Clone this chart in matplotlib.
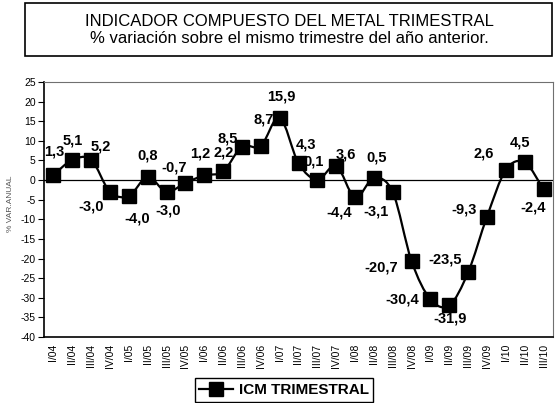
import matplotlib
matplotlib.use("Agg")
import matplotlib.pyplot as plt
from matplotlib.path import Path
from matplotlib.patches import PathPatch, Rectangle
from matplotlib.lines import Line2D
import numpy as np

plt.rcParams["font.family"] = ["Liberation Sans", "DejaVu Sans"]

# datos
trimestres = ["I/04", "II/04", "III/04", "IV/04",
              "I/05", "II/05", "III/05", "IV/05",
              "I/06", "II/06", "III/06", "IV/06",
              "I/07", "II/07", "III/07", "IV/07",
              "I/08", "II/08", "III/08", "IV/08",
              "I/09", "II/09", "III/09", "IV/09",
              "I/10", "II/10", "III/10"]
icm = [1.3, 5.1, 5.2, -3.0,
       -4.0, 0.8, -3.0, -0.7,
       1.2, 2.2, 8.5, 8.7,
       15.9, 4.3, 0.1, 3.6,
       -4.4, 0.5, -3.1, -20.7,
       -30.4, -31.9, -23.5, -9.3,
       2.6, 4.5, -2.4]
y_ticks = list(range(-40, 30, 5))

# desplazamiento de cada etiqueta (px, y hacia abajo)
offsets_px = [(1, -23), (0, -20), (10, -13), (-19, 15),
              (8, 23), (0, -21), (2, 19), (-11, -15),
              (-4, -22), (1, -19), (-14, -8), (3, -26),
              (2, -21), (7, -19), (-4, -18), (10, -11),
              (-16, 15), (3, -21), (-17, 19), (-30, 6),
              (-28, 0), (1, 13), (-23, -13), (-23, -7),
              (-22, -16), (-5, -20), (-10, 18)]

W, H = 555, 403
fig = plt.figure(figsize=(W / 100, H / 100), dpi=100)
ax = fig.add_axes([44 / W, 1 - 337 / H, (553 - 44) / W, (337 - 82) / H])

x = np.arange(len(icm))
y = np.array(icm)

# linea suavizada (estilo Excel) con curvas de Bezier
pts = np.column_stack([x, y])
verts = [pts[0]]
codes = [Path.MOVETO]
for i in range(len(pts) - 1):
    p0 = pts[i - 1] if i > 0 else pts[i]
    p1 = pts[i]
    p2 = pts[i + 1]
    p3 = pts[i + 2] if i + 2 < len(pts) else pts[i + 1]
    verts += [p1 + (p2 - p0) / 6, p2 - (p3 - p1) / 6, p2]
    codes += [Path.CURVE4] * 3
ax.add_patch(PathPatch(Path(verts, codes), fill=False, edgecolor="black", lw=1.6, zorder=3))
ax.plot(x, y, ls="none", marker="s", ms=9.5, color="black", zorder=4)

ax.axhline(0, color="black", lw=0.9, zorder=2)

for xi, v, (dx, dy) in zip(x, icm, offsets_px):
    ax.annotate(f"{v:.1f}".replace(".", ","), (xi, v),
                xytext=(dx * 0.72, -dy * 0.72), textcoords="offset points",
                ha="center", va="center", fontsize=10.5, fontweight="bold", zorder=5)

ax.set_xlim(-0.5, len(icm) - 0.5)
ax.set_ylim(-40, 25)
ax.set_yticks(y_ticks)
ax.set_yticklabels([str(t) for t in y_ticks], fontsize=7.5)
ax.set_xticks(x)
ax.set_xticklabels(trimestres, rotation=90, fontsize=7.5)
ax.tick_params(axis="x", length=0, pad=5)
ax.tick_params(axis="y", length=4, width=0.8, pad=2)
for s in ["top", "right"]:
    ax.spines[s].set_color("#707070")
    ax.spines[s].set_linewidth(0.8)
for s in ["left", "bottom"]:
    ax.spines[s].set_color("black")
    ax.spines[s].set_linewidth(1.2)

fig.text(11 / W, 1 - 204 / H, "% VAR.ANUAL", rotation=90, fontsize=6,
         color="#555555", ha="center", va="center")

# caja del titulo
fig.patches.append(Rectangle((25 / W, 1 - 56 / H), (552 - 25) / W, (56 - 3) / H,
                             transform=fig.transFigure, fill=False,
                             edgecolor="black", lw=1.2))
fig.text(289 / W, 1 - 21.5 / H, "INDICADOR COMPUESTO DEL METAL TRIMESTRAL",
         fontsize=12, ha="center", va="center")
fig.text(289 / W, 1 - 38.5 / H, "% variación sobre el mismo trimestre del año anterior.",
         fontsize=12, ha="center", va="center")

handle = Line2D([], [], color="black", lw=1.6, marker="s", ms=9.5)
leg = fig.legend([handle], ["ICM TRIMESTRAL"], loc="center",
                 bbox_to_anchor=(284 / W, 1 - 390 / H),
                 prop={"weight": "bold", "size": 11}, fancybox=False,
                 edgecolor="black", framealpha=1, handlelength=2.2,
                 borderpad=0.3, handletextpad=0.4)
leg.get_frame().set_linewidth(1.0)

fig.savefig("out.png", dpi=100)
